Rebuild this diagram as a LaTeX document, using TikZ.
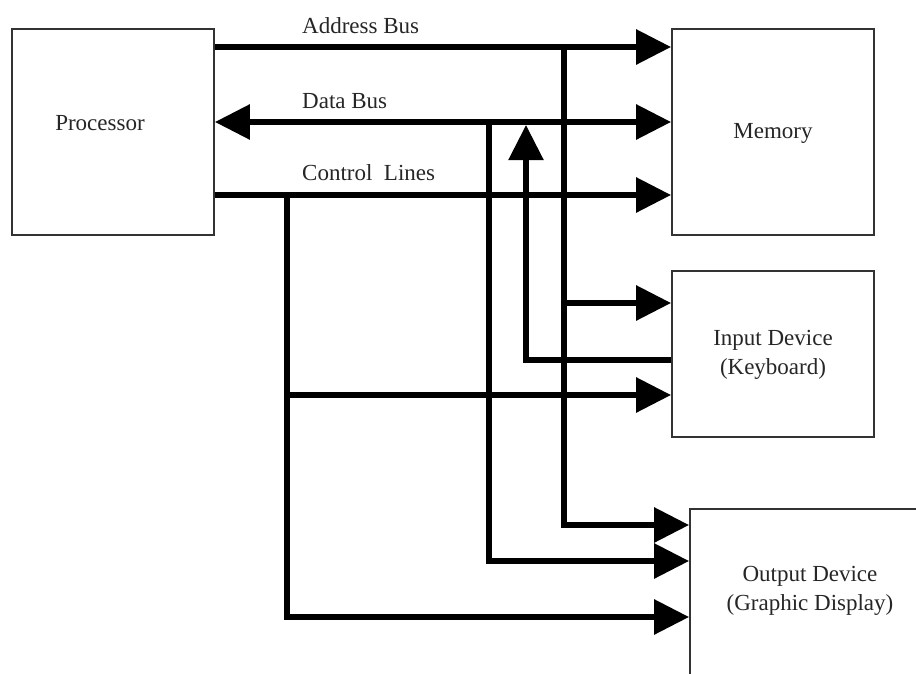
\documentclass[tikz,border=0pt]{standalone}
\usepackage{fontspec}
\setmainfont{Liberation Serif}
\usetikzlibrary{arrows.meta}
\begin{document}
\begin{tikzpicture}[x=1pt,y=-1pt,
  box/.style={draw=black!80,line width=1.8pt,minimum width=202pt,inner sep=0pt},
  txt/.style={font=\fontsize{23}{29}\selectfont,text=black!85,align=center,inner sep=0pt},
  bus/.style={line width=6pt,line join=miter},
  Tri/.tip={Triangle[length=35pt,width=34pt]}
]
\useasboundingbox (0,0) rectangle (916,673);
\clip (0,0) rectangle (916,673);
\fill[white] (0,0) rectangle (916,673);
% boxes
\node[box,minimum height=206pt] (proc) at (113,132) {};
\node[box,minimum height=206pt] (mem) at (773,132) {};
\node[box,minimum height=166pt] (inp) at (773,354) {};
\node[box,minimum width=240pt,minimum height=166pt] (out) at (810,592) {};
% box texts
\node[txt,anchor=base] (proct) at (100,130) {Processor};
\node[txt,anchor=base] (memt) at (773,138) {Memory};
\node[txt] (inpt) at (773,355) {Input Device\\(Keyboard)};
\node[txt] (outt) at (810,591) {Output Device\\(Graphic Display)};
% bus labels
\node[txt,anchor=base west] (lab1) at (302,33) {Address Bus};
\node[txt,anchor=base west] (lab2) at (302,108) {Data Bus};
\node[txt,anchor=base west] (lab3) at (302,180) {Control\ \ Lines};
% junction coordinates
\coordinate (ja) at (564,47);
\coordinate (jd) at (489,122);
\coordinate (jc) at (287,195);
\coordinate (jk) at (526,125);
% address bus
\draw[bus,-{Tri}] (proc.east |- ja) -- (mem.west |- ja);
\draw[bus,-{Tri}] (ja) -- (ja |- 0,525) -- (out.west |- 0,525);
\draw[bus,-{Tri}] (ja |- 0,303) -- (inp.west |- 0,303);
% data bus
\draw[bus,{Tri}-{Tri}] (proc.east |- jd) -- (mem.west |- jd);
\draw[bus,-{Tri}] (jd) -- (jd |- 0,561) -- (out.west |- 0,561);
\draw[line width=5.5pt,line join=miter,-{Tri}] (inp.west |- 0,360) -- (jk |- 0,360) -- (jk);
% control lines
\draw[bus,-{Tri}] (proc.east |- jc) -- (mem.west |- jc);
\draw[bus,-{Tri}] (jc) -- (jc |- 0,617) -- (out.west |- 0,617);
\draw[bus,-{Tri}] (jc |- 0,395) -- (inp.west |- 0,395);
\end{tikzpicture}
\end{document}
